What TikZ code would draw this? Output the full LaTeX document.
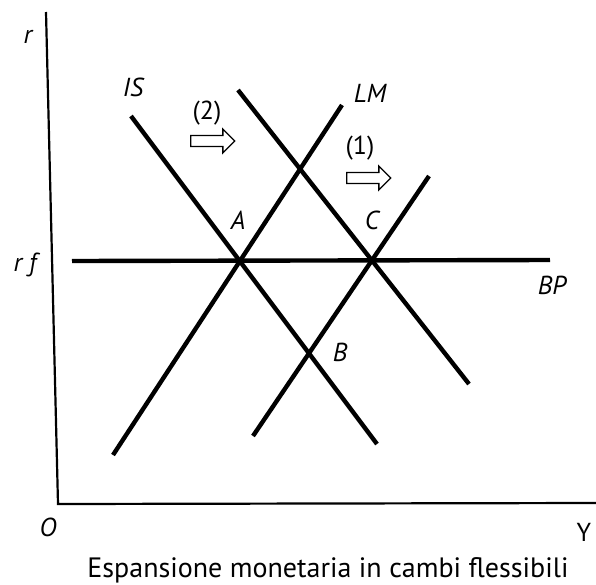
\documentclass[tikz,border=0pt]{standalone}
\usepackage{fontspec}
\setmainfont{PT Sans}
\usetikzlibrary{shapes.arrows}

\tikzset{
    curve/.style={line width=2.2pt},
    axis/.style={line width=1.1pt},
    lbl/.style={font=\fontsize{13}{15}\selectfont\itshape, inner sep=0pt},
    uplbl/.style={font=\fontsize{13}{15}\selectfont, inner sep=0pt},
    shift arrow/.style={single arrow, draw, line width=0.7pt, inner sep=2.4pt,
        minimum height=22pt, single arrow head extend=3.2pt,
        single arrow head indent=0pt}
}

\begin{document}
\begin{tikzpicture}[x=0.5pt, y=-0.5pt]
    % Frame of the picture
    \useasboundingbox (0,0) rectangle (596,585);

    % Axes
    \coordinate (top) at (46,12);
    \coordinate (origin) at (58,504);
    \coordinate (right) at (596,503);
    \draw[axis] (top) -- (origin) -- (right);

    % End points of the curves
    \coordinate (bp1) at (72,261);
    \coordinate (bp2) at (550,260);
    \coordinate (is1) at (131,116);
    \coordinate (is2) at (377,444);
    \coordinate (isb1) at (238,90);
    \coordinate (isb2) at (469,384);
    \coordinate (lm1) at (113,455);
    \coordinate (lm2) at (342,105);
    \coordinate (lmb1) at (253,436);
    \coordinate (lmb2) at (429,176);

    % Draw the curves
    \draw[curve] (bp1) -- (bp2);
    \draw[curve] (is1) -- (is2);
    \draw[curve] (isb1) -- (isb2);
    \draw[curve] (lm1) -- (lm2);
    \draw[curve] (lmb1) -- (lmb2);

    % Labels for the curves and points
    \node[lbl] (islabel) at (133,87) {IS};
    \node[lbl] (lmlabel) at (370,93) {LM};
    \node[lbl] (bplabel) at (552,285) {BP};
    \node[lbl] (ptA) at (238,220) {A};
    \node[lbl] (ptC) at (372,220) {C};
    \node[lbl] (ptB) at (340,352) {B};

    % Labels for the axes
    \node[lbl] (rlabel) at (28,37) {r};
    \node[lbl] (rflabel) at (25,265) {r f};
    \node[lbl] (olabel) at (48,527) {O};
    \node[uplbl] (ylabel) at (584,532) {Y};

    % Shifts of the curves
    \node[uplbl] (step2) at (207,113) {(2)};
    \node[shift arrow] (arrow2) at (210,141) {};
    \node[uplbl] (step1) at (360,148) {(1)};
    \node[shift arrow] (arrow1) at (366,178) {};

    % Caption
    \node[uplbl, font=\fontsize{14}{16}\selectfont] (caption) at (328,570) {Espansione monetaria in cambi flessibili};
\end{tikzpicture}
\end{document}
